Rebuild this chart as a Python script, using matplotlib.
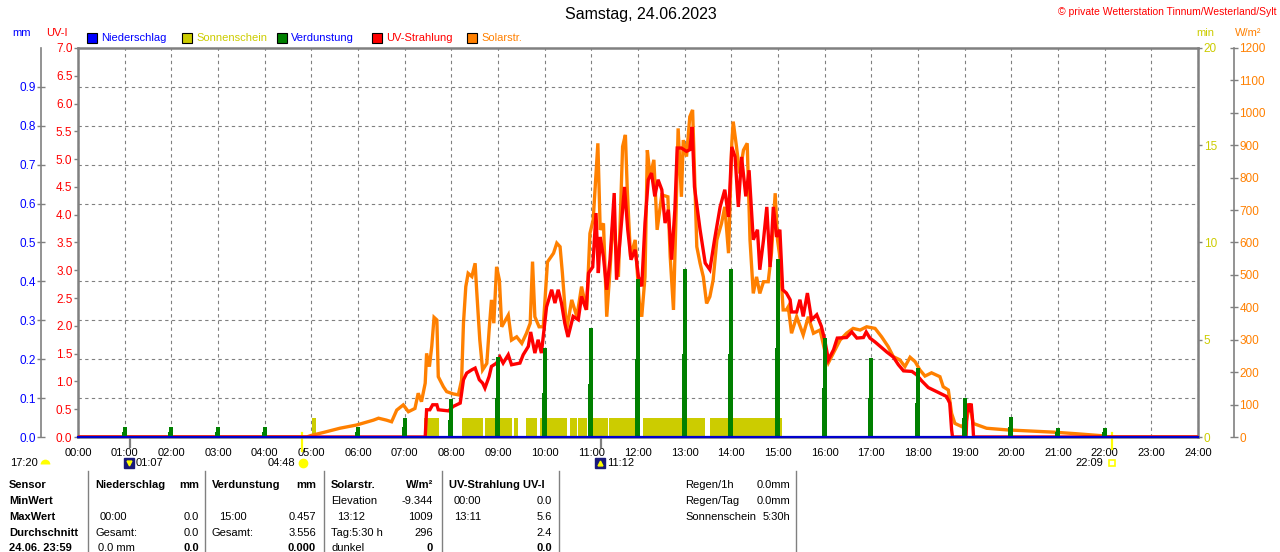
import matplotlib
matplotlib.use("Agg")
import matplotlib.pyplot as plt
import matplotlib.transforms as mtrans
from matplotlib.patches import Rectangle

plt.rcParams['font.family'] = ['Liberation Sans', 'DejaVu Sans']
plt.rcParams['font.size'] = 8

BLUE = '#0000FF'
SUNCOL = '#CCCC00'
GREEN = '#008000'
RED = '#FF0000'
ORANGE = '#FF8000'
GRAY = '#808080'

# --- data ---
hours = list(range(25))
hour_labels = ['%02d:00' % h for h in hours]

# Solarstrahlung W/m2
solar_t = [0.0, 4.90, 5.00, 5.26, 5.61, 5.97, 6.33, 6.44, 6.61, 6.72, 6.83, 6.97, 7.08, 7.22, 7.29,
           7.36, 7.44, 7.47, 7.53, 7.58, 7.63, 7.69, 7.72, 7.83, 7.90, 8.04, 8.15, 8.22, 8.26, 8.31,
           8.36, 8.44, 8.51, 8.54, 8.61, 8.67, 8.76, 8.81, 8.86, 8.91, 8.97, 9.03, 9.08, 9.22, 9.29,
           9.40, 9.51, 9.61, 9.69, 9.74, 9.79, 9.88, 9.97, 10.06, 10.19, 10.26, 10.33, 10.38, 10.47,
           10.58, 10.69, 10.79, 10.90, 10.97, 11.04, 11.10, 11.14, 11.19, 11.26, 11.33, 11.40, 11.47,
           11.58, 11.67, 11.73, 11.77, 11.84, 11.94, 12.03, 12.08, 12.15, 12.20, 12.26, 12.34, 12.41,
           12.51, 12.64, 12.69, 12.76, 12.81, 12.86, 12.93, 12.97, 13.04, 13.11, 13.17, 13.20, 13.26,
           13.33, 13.40, 13.47, 13.54, 13.61, 13.69, 13.79, 13.86, 13.94, 14.01, 14.04, 14.11, 14.18,
           14.26, 14.34, 14.40, 14.47, 14.54, 14.61, 14.69, 14.79, 14.86, 14.94, 14.99, 15.04, 15.11,
           15.18, 15.22, 15.29, 15.40, 15.54, 15.65, 15.76, 15.90, 16.00, 16.08, 16.22, 16.33, 16.47,
           16.61, 16.76, 16.90, 17.08, 17.22, 17.36, 17.47, 17.61, 17.72, 17.83, 17.94, 18.04, 18.15,
           18.29, 18.47, 18.54, 18.65, 18.72, 18.79, 18.94, 19.04, 19.11, 19.18, 19.47, 19.90, 20.33,
           20.90, 21.40, 21.76, 21.94, 22.00, 24.00]
solar_w = [0, 0, 5, 14, 27, 37, 52, 58, 52, 47, 83, 99, 78, 88, 135,
           109, 166, 258, 217, 279, 369, 361, 186, 155, 140, 133, 130, 176, 351, 464,
           505, 495, 536, 459, 299, 207, 227, 330, 423, 351, 525, 484, 340, 376, 299,
           309, 289, 320, 351, 541, 371, 340, 340, 540, 567, 598, 587, 505, 330,
           423, 371, 464, 392, 628, 670, 813, 906, 639, 659, 371, 515, 680,
           494, 896, 932, 762, 556, 608, 412, 371, 494, 885, 803, 855, 639,
           747, 741, 556, 392, 659, 952, 741, 916, 865, 988, 1009, 865, 587,
           536, 494, 412, 433, 484, 608, 659, 710, 567, 906, 973, 896, 813,
           885, 906, 608, 443, 494, 443, 479, 479, 567, 752, 608, 556, 392,
           392, 402, 320, 371, 315, 371, 320, 330, 268, 229, 268, 299, 320,
           335, 330, 340, 335, 309, 279, 248, 238, 217, 246, 232, 207, 188,
           198, 186, 155, 145, 73, 42, 32, 52, 104, 42, 27, 22, 19,
           15, 10, 6, 4, 0, 0]

# UV-Index
uv_t = [0.0, 7.44, 7.47, 7.54, 7.60, 7.69, 7.72, 7.94, 8.04, 8.19, 8.26, 8.33, 8.44, 8.51, 8.60,
        8.67, 8.72, 8.81, 8.86, 8.97, 9.04, 9.11, 9.22, 9.29, 9.47, 9.54, 9.65, 9.70, 9.79, 9.86,
        9.93, 10.04, 10.15, 10.22, 10.29, 10.36, 10.43, 10.50, 10.61, 10.72, 10.79, 10.89, 10.94,
        11.03, 11.10, 11.15, 11.19, 11.26, 11.33, 11.40, 11.49, 11.54, 11.61, 11.71, 11.78, 11.85,
        11.94, 12.01, 12.08, 12.15, 12.22, 12.29, 12.36, 12.43, 12.51, 12.58, 12.65, 12.72, 12.79,
        12.84, 12.93, 13.04, 13.11, 13.16, 13.21, 13.33, 13.44, 13.54, 13.64, 13.76, 13.86, 13.94,
        14.01, 14.08, 14.15, 14.22, 14.31, 14.38, 14.47, 14.56, 14.61, 14.69, 14.76, 14.83, 14.90,
        14.97, 15.04, 15.10, 15.18, 15.26, 15.29, 15.40, 15.47, 15.54, 15.63, 15.72, 15.83, 15.93,
        16.00, 16.08, 16.19, 16.27, 16.47, 16.58, 16.69, 16.83, 16.89, 16.97, 17.08, 17.19, 17.33,
        17.47, 17.58, 17.69, 17.87, 17.97, 18.08, 18.22, 18.44, 18.61, 18.68, 18.72, 18.74, 19.03,
        19.05, 19.08, 19.11, 19.14, 19.17, 19.19, 24.0]
uv_i = [0, 0, 0.49, 0.49, 0.58, 0.58, 0.49, 0.47, 0.55, 0.61, 1.03, 1.15, 1.21, 1.24, 1.03,
        0.97, 0.88, 1.09, 1.27, 1.33, 1.44, 1.33, 1.48, 1.30, 1.33, 1.48, 1.63, 1.89, 1.51, 1.75,
        1.51, 2.34, 2.65, 2.41, 2.65, 2.41, 2.05, 1.80, 2.17, 2.11, 2.53, 2.29, 2.95,
        3.06, 4.03, 2.95, 3.60, 3.24, 2.65, 3.19, 4.39, 2.83, 3.49, 4.50, 3.73, 3.19,
        3.37, 2.88, 2.71, 3.85, 4.63, 4.75, 4.33, 4.63, 4.45, 3.85, 4.09, 3.19, 4.09,
        5.20, 5.20, 5.14, 5.17, 5.58, 4.50, 3.73, 3.13, 3.01, 3.55, 4.14, 4.45, 3.96,
        5.22, 5.04, 4.14, 5.04, 4.33, 4.80, 3.55, 3.73, 3.01, 3.55, 4.14, 3.06, 4.14,
        3.60, 3.73, 2.65, 2.59, 2.47, 2.25, 2.25, 2.47, 2.17, 2.59, 2.11, 2.20, 1.99,
        1.75, 1.39, 1.57, 1.78, 1.79, 1.89, 1.78, 1.79, 1.89, 1.78, 1.71, 1.63, 1.53,
        1.44, 1.30, 1.19, 1.18, 1.12, 1.01, 0.89, 0.80, 0.73, 0.61, 0.13, 0, 0,
        0.5, 0.6, 0.45, 0.6, 0.3, 0, 0]

# Verdunstung mm (hour value and half-hour part)
evap_h = [1, 2, 3, 4, 6, 7, 8, 9, 10, 11, 12, 13, 14, 15, 16, 17, 18, 19, 20, 21, 22]
evap_mm = [0.026, 0.026, 0.026, 0.026, 0.026, 0.049, 0.098, 0.206, 0.229, 0.28, 0.406, 0.432,
           0.432, 0.457, 0.255, 0.203, 0.177, 0.10, 0.051, 0.024, 0.024]
evap_half = [0.013, 0.013, 0.013, 0.013, 0.013, 0.025, 0.044, 0.10, 0.113, 0.136, 0.20, 0.213,
             0.213, 0.229, 0.126, 0.10, 0.087, 0.05, 0.026, 0.012, 0.012]

# Sonnenschein (min per minute)
sun_start = [5.01, 7.42, 8.23, 8.72, 9.34, 9.59, 9.90, 10.54, 10.72, 10.92, 11.38, 12.10, 13.55]
sun_end = [5.10, 7.73, 8.67, 9.29, 9.43, 9.83, 10.47, 10.69, 10.90, 11.35, 11.97, 13.43, 15.09]
sun_min = [1.0] * len(sun_start)

# Niederschlag
rain_t = [0, 24]
rain_mm = [0.0, 0.0]

sunrise = 4 + 48 / 60
sunset = 22 + 9 / 60
moon1 = 1 + 7 / 60
moon2 = 11 + 12 / 60

# --- figure ---
W, H = 1280, 552
fig = plt.figure(figsize=(12.8, 5.52), dpi=100)


def fx(x):
    return x / W


def fy(y):
    return 1 - y / H


ax = fig.add_axes([fx(78), fy(437), 1120 / W, 389 / H])
ax_sol = ax.twinx()
ax_uv = ax.twinx()
ax_mm = ax.twinx()

# sunshine bars (minute axis)
ax.bar(sun_start, sun_min, width=[e - s for s, e in zip(sun_start, sun_end)],
       align='edge', color=SUNCOL, linewidth=0, zorder=2)
ax.set_xlim(0, 24)
ax.set_ylim(0, 20)

# grid
ax.set_xticks(hours)
ax.set_xticklabels(hour_labels)
ax.set_yticks([0, 5, 10, 15, 20])
ax.set_yticks([2, 4, 6, 8, 10, 12, 14, 16, 18], minor=True)
ax.grid(True, axis='x', which='major', color=GRAY, linestyle=(0, (3, 3)), linewidth=0.8)
ax.grid(True, axis='y', which='minor', color=GRAY, linestyle=(0, (3, 3)), linewidth=0.8)
ax.set_axisbelow(True)

# solar
ax_sol.plot(solar_t, solar_w, color=ORANGE, linewidth=2.4, solid_joinstyle='miter')
ax_sol.set_ylim(0, 1200)
ax_sol.set_yticks(range(0, 1201, 100))

# uv
ax_uv.plot(uv_t, uv_i, color=RED, linewidth=2.4, solid_joinstyle='miter')
ax_uv.set_ylim(0, 7)
ax_uv.set_yticks([i * 0.5 for i in range(15)])
ax_uv.set_yticklabels(['%.1f' % (i * 0.5) for i in range(15)])

# evaporation + precipitation
ax_mm.bar([h - 0.012 for h in evap_h], evap_half, width=0.105, color=GREEN, linewidth=0)
ax_mm.bar(evap_h, evap_mm, width=0.08, color=GREEN, linewidth=0)
ax_mm.plot(rain_t, rain_mm, color='#0000CC', linewidth=1.6, clip_on=False, zorder=5)
ax_mm.set_ylim(0, 1.0)
ax_mm.set_yticks([i / 10 for i in range(10)])
ax_mm.set_yticklabels(['%.1f' % (i / 10) for i in range(10)])

# axis cosmetics
for a in (ax_sol, ax_uv, ax_mm):
    for s in a.spines.values():
        s.set_visible(False)

for side in ('left', 'top', 'right', 'bottom'):
    ax.spines[side].set_color(GRAY)
    ax.spines[side].set_linewidth(1.8)

ax.yaxis.tick_right()
ax.tick_params(axis='y', which='major', direction='out', length=3, width=1, color=GRAY,
               labelcolor=SUNCOL, pad=1, labelsize=8.5)
ax.tick_params(axis='y', which='minor', length=0)
ax.tick_params(axis='x', length=0, pad=8, labelsize=8)

ax_uv.yaxis.tick_left()
ax_uv.tick_params(axis='y', direction='out', length=3, width=1, color=GRAY,
                  labelcolor=RED, pad=1, labelsize=8.5)

ax_mm.yaxis.tick_left()
ax_mm.spines['left'].set_visible(True)
ax_mm.spines['left'].set_position(('outward', 26.6))
ax_mm.spines['left'].set_color(GRAY)
ax_mm.spines['left'].set_linewidth(1.2)
ax_mm.tick_params(axis='y', direction='inout', length=6, width=1, color=GRAY,
                  labelcolor=BLUE, pad=1, labelsize=8.5)

ax_sol.spines['right'].set_visible(True)
ax_sol.spines['right'].set_position(('outward', 25.9))
ax_sol.spines['right'].set_color(GRAY)
ax_sol.spines['right'].set_linewidth(1.2)
ax_sol.tick_params(axis='y', direction='inout', length=6, width=1, color=GRAY,
                   labelcolor=ORANGE, pad=1, labelsize=8.5)

# markers under the time axis
bt = mtrans.blended_transform_factory(ax.transData, ax.transAxes)
row = -0.067
ax.plot([sunrise, sunrise], [-0.035, 0.01], color='#FFFF00', linewidth=1.6, transform=bt, clip_on=False)
ax.plot([sunset, sunset], [-0.03, 0.01], color='#FFFF00', linewidth=1.6, transform=bt, clip_on=False)
ax.plot([moon1, moon1], [-0.026, 0.0], color=GRAY, linewidth=1.6, transform=bt, clip_on=False)
ax.plot([moon2, moon2], [-0.026, 0.0], color=GRAY, linewidth=1.6, transform=bt, clip_on=False)

ax.plot([sunrise + 0.02], [row], marker='o', markersize=6, color='#FFFF00', transform=bt, clip_on=False)
ax.annotate('04:48', xy=(sunrise, row), xycoords=bt, xytext=(-5, 0), textcoords='offset points',
            ha='right', va='center', fontsize=8)
ax.plot([sunset], [row], marker='s', markersize=5, mfc='none', mec='#FFFF00', mew=1.2,
        transform=bt, clip_on=False)
ax.annotate('22:09', xy=(sunset, row), xycoords=bt, xytext=(-6, 0), textcoords='offset points',
            ha='right', va='center', fontsize=8)
for t, arrow, lab in ((moon1 - 0.02, 'v', '01:07'), (moon2 - 0.02, '^', '11:12')):
    ax.plot([t], [row], marker='s', markersize=7, color='#1A1A7A', transform=bt, clip_on=False)
    ax.plot([t], [row], marker=arrow, markersize=3.5, color='#FFFF00', transform=bt, clip_on=False)
    ax.annotate(lab, xy=(t, row), xycoords=bt, xytext=(5, 0), textcoords='offset points',
                ha='left', va='center', fontsize=8)

fig.text(fx(10), fy(463), '17:20', va='center', fontsize=8)
fig.lines.append(plt.Line2D([fx(45)], [fy(464)], marker='o', markersize=7, fillstyle='top',
                            color='#FFFF00', markerfacecoloralt='none', mec='none',
                            transform=fig.transFigure))

# titles and unit labels
fig.text(fx(641), fy(15), 'Samstag, 24.06.2023', ha='center', va='center', fontsize=11.5)
fig.text(fx(1276), fy(12), '\u00a9 private Wetterstation Tinnum/Westerland/Sylt', ha='right',
         va='center', color=RED, fontsize=7.5)
fig.text(fx(22), fy(33), 'mm', ha='center', va='center', color=BLUE, fontsize=8)
fig.text(fx(57), fy(33), 'UV-I', ha='center', va='center', color=RED, fontsize=8)
fig.text(fx(1205), fy(33), 'min', ha='center', va='center', color=SUNCOL, fontsize=8)
fig.text(fx(1248), fy(33), 'W/m\u00b2', ha='center', va='center', color=ORANGE, fontsize=8)

# legend
legend_items = [('Niederschlag', BLUE, BLUE), ('Sonnenschein', SUNCOL, SUNCOL),
                ('Verdunstung', GREEN, BLUE), ('UV-Strahlung', RED, RED), ('Solarstr.', ORANGE, ORANGE)]
for i, (name, fc, tc) in enumerate(legend_items):
    x0 = 87 + i * 95
    fig.patches.append(Rectangle((fx(x0), fy(43)), 10 / W, 10 / H, facecolor=fc, edgecolor='black',
                                 linewidth=0.8, transform=fig.transFigure))
    fig.text(fx(x0 + 14), fy(38), name, va='center', color=tc, fontsize=8)

# table below
rows_y = [485, 501, 517, 533, 548]
for x in (88, 205, 324, 442, 559, 796):
    fig.lines.append(plt.Line2D([fx(x), fx(x)], [fy(471), fy(552)], color=GRAY, linewidth=1,
                                transform=fig.transFigure))

row_labels = ['Sensor', 'MinWert', 'MaxWert', 'Durchschnitt', '24.06. 23:59']
for y, s in zip(rows_y, row_labels):
    fig.text(fx(9), fy(y), s, va='center', fontweight='bold', fontsize=8)

cells = [
    # (x, row, text, align, bold)
    (95, 0, 'Niederschlag', 'left', True), (199, 0, 'mm', 'right', True),
    (100, 2, '00:00', 'left', False), (199, 2, '0.0', 'right', False),
    (95, 3, 'Gesamt:', 'left', False), (199, 3, '0.0', 'right', False),
    (98, 4, '0.0 mm', 'left', False), (199, 4, '0.0', 'right', True),
    (212, 0, 'Verdunstung', 'left', True), (316, 0, 'mm', 'right', True),
    (219, 2, '15:00', 'left', False), (316, 2, '0.457', 'right', False),
    (212, 3, 'Gesamt:', 'left', False), (316, 3, '3.556', 'right', False),
    (316, 4, '0.000', 'right', True),
    (331, 0, 'Solarstr.', 'left', True), (433, 0, 'W/m\u00b2', 'right', True),
    (331, 1, 'Elevation', 'left', False), (433, 1, '-9.344', 'right', False),
    (337, 2, '13:12', 'left', False), (433, 2, '1009', 'right', False),
    (331, 3, 'Tag:5:30 h', 'left', False), (433, 3, '296', 'right', False),
    (331, 4, 'dunkel', 'left', False), (433, 4, '0', 'right', True),
    (449, 0, 'UV-Strahlung UV-I', 'left', True),
    (454, 1, '00:00', 'left', False), (552, 1, '0.0', 'right', False),
    (454, 2, '13:11', 'left', False), (552, 2, '5.6', 'right', False),
    (552, 3, '2.4', 'right', False), (552, 4, '0.0', 'right', True),
    (685, 0, 'Regen/1h', 'left', False), (790, 0, '0.0mm', 'right', False),
    (685, 1, 'Regen/Tag', 'left', False), (790, 1, '0.0mm', 'right', False),
    (685, 2, 'Sonnenschein', 'left', False), (790, 2, '5:30h', 'right', False),
]
for x, r, s, ha, bold in cells:
    fig.text(fx(x), fy(rows_y[r]), s, ha=ha, va='center', fontsize=8,
             fontweight='bold' if bold else 'normal')

fig.savefig('out.png', dpi=100)
